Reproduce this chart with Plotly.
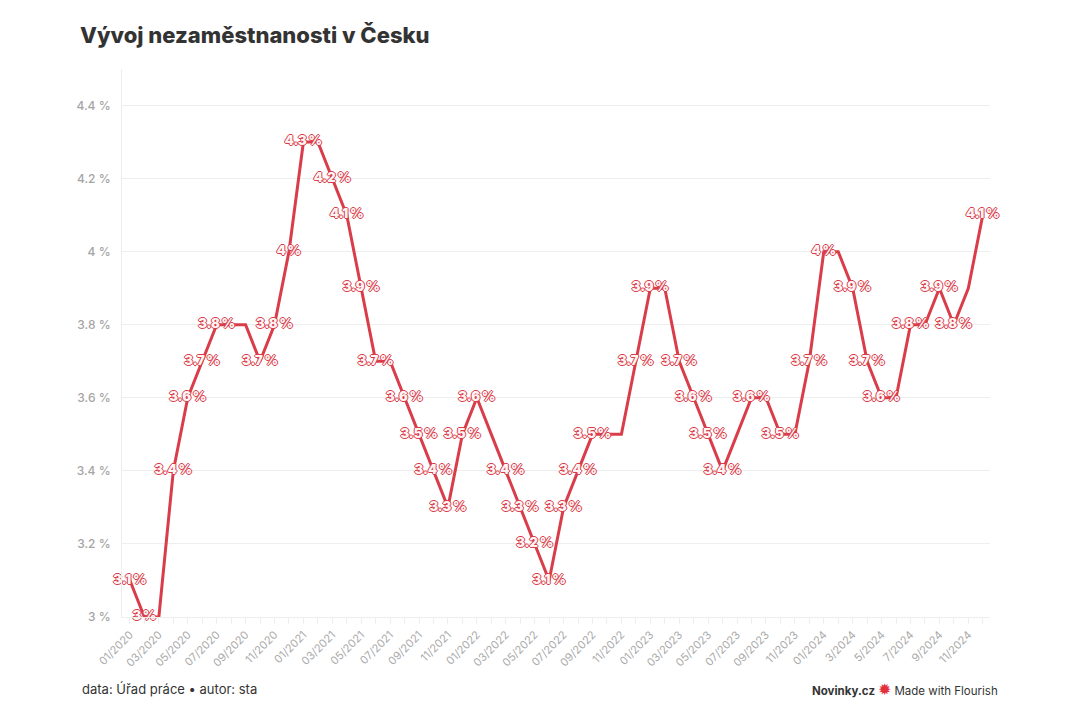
import plotly.graph_objects as go

# monthly unemployment rate, 01/2020 .. 12/2024
months = [f"{m:02d}/{y}" for y in range(2020, 2025) for m in range(1, 13)]
rate = [3.1, 3.0, 3.0, 3.4, 3.6, 3.7, 3.8, 3.8, 3.8, 3.7, 3.8, 4.0,
        4.3, 4.3, 4.2, 4.1, 3.9, 3.7, 3.7, 3.6, 3.5, 3.4, 3.3, 3.5,
        3.6, 3.5, 3.4, 3.3, 3.2, 3.1, 3.3, 3.4, 3.5, 3.5, 3.5, 3.7,
        3.9, 3.9, 3.7, 3.6, 3.5, 3.4, 3.5, 3.6, 3.6, 3.5, 3.5, 3.7,
        4.0, 4.0, 3.9, 3.7, 3.6, 3.6, 3.8, 3.8, 3.9, 3.8, 3.9, 4.1]

tick_labels = ["01/2020", "03/2020", "05/2020", "07/2020", "09/2020", "11/2020",
               "01/2021", "03/2021", "05/2021", "07/2021", "09/2021", "11/2021",
               "01/2022", "03/2022", "05/2022", "07/2022", "09/2022", "11/2022",
               "01/2023", "03/2023", "05/2023", "07/2023", "09/2023", "11/2023",
               "01/2024", "3/2024", "5/2024", "7/2024", "9/2024", "11/2024"]
y_ticks = [3.0, 3.2, 3.4, 3.6, 3.8, 4.0, 4.2, 4.4]

RED = "#d93d4a"

# hide labels that would collide with the same value shown just before
labels = []
shown = {}
for i, v in enumerate(rate):
    if v in shown and i - shown[v] <= 2:
        labels.append("")
    else:
        labels.append(f"{v:g}\u2009%")
        shown[v] = i

x = list(range(len(months)))
halo = f"-1px 0 0 {RED}, 1px 0 0 {RED}, 0 -1px 0 {RED}, 0 1px 0 {RED}"

fig = go.Figure()
fig.add_trace(go.Scatter(
    x=x, y=rate, mode="lines+text", text=labels, textposition="middle center",
    line=dict(color=RED, width=3),
    textfont=dict(family="Inter", size=13, color="#fff4f4", weight=900, shadow=halo),
    hoverinfo="skip", cliponaxis=False,
))

fig.update_layout(
    width=1080, height=720,
    margin=dict(l=114, r=98, t=61, b=111),
    paper_bgcolor="white", plot_bgcolor="white",
    showlegend=False,
    font=dict(family="Inter", color="#333"),
    title=dict(text="Vývoj nezaměstnanosti v Česku", x=72 / 1080, xanchor="left",
               y=1 - 27 / 720, yanchor="middle",
               font=dict(family="Inter", size=22, color="#333", weight=800)),
)
fig.update_xaxes(
    range=[-0.55, 59.5], tickvals=x[::2], ticktext=tick_labels, tickangle=-45,
    tickfont=dict(size=11, color="#aaa"), showgrid=False, zeroline=False,
    showline=True, linecolor="#eee", ticks="outside", ticklen=6, tickcolor="#eee",
    minor=dict(ticks="outside", ticklen=6, tickcolor="#eee", dtick=1, tick0=0),
)
fig.update_yaxes(
    range=[3.0, 4.5], tickvals=y_ticks, ticktext=[f"{v:g} %" for v in y_ticks],
    tickfont=dict(size=12, color="#a5a5a5", weight=500), gridcolor="#eee", gridwidth=1,
    zeroline=False, showline=True, linecolor="#eee", ticks="", ticklabelstandoff=8,
)

fig.add_annotation(text="data: Úřad práce • autor: sta", xref="paper", yref="paper",
                   x=-42 / 868, y=-72 / 548, xanchor="left", yanchor="middle",
                   showarrow=False, font=dict(size=13, color="#333"))
fig.add_annotation(text="<b>Novinky.cz</b> <span style='color:#e0313c;font-size:16px'>✹</span> Made with Flourish",
                   xref="paper", yref="paper", x=1 + 10 / 868, y=-72 / 548,
                   xanchor="right", yanchor="middle", showarrow=False,
                   font=dict(size=11.5, color="#333"))

fig.write_html("out.html")
